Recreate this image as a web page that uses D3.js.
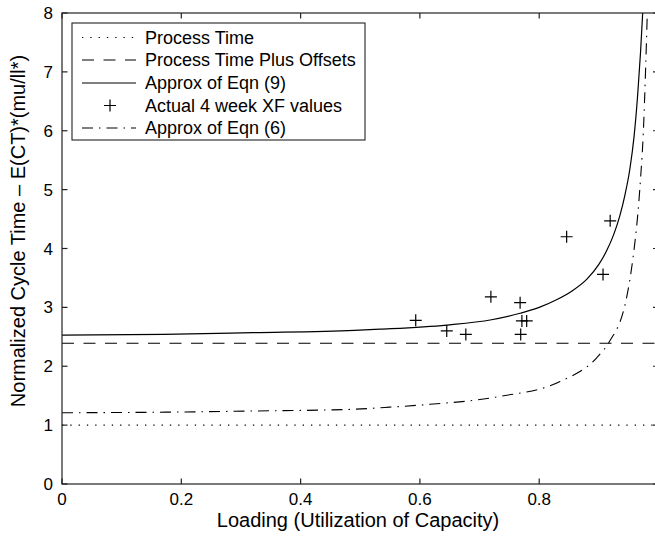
<!DOCTYPE html>
<html><head><meta charset="utf-8">
<script src="https://cdn.jsdelivr.net/npm/d3@7"></script>
<style>body{margin:0;background:#fff}svg{display:block;font-family:"Liberation Sans",Arial,Helvetica,sans-serif}</style>
</head><body>
<svg id="c" width="655" height="541"></svg>
<script>
// ---- data ----
const xTicks = [0, 0.2, 0.4, 0.6, 0.8];
const yTicks = [0, 1, 2, 3, 4, 5, 6, 7, 8];
const processTime = 1.0;
const processTimeOffsets = 2.39;
const eqn9X = [0, 0.17, 0.32, 0.49, 0.533, 0.645, 0.72, 0.768, 0.80, 0.829, 0.855, 0.88, 0.90, 0.913, 0.925, 0.935, 0.944, 0.952, 0.959, 0.965, 0.970, 0.974];
const eqn9Y = [2.53, 2.54, 2.57, 2.61, 2.63, 2.70, 2.79, 2.90, 3.00, 3.13, 3.28, 3.48, 3.73, 3.96, 4.24, 4.55, 4.92, 5.35, 5.9, 6.6, 7.35, 8.1];
const eqn6X = [0, 0.173, 0.324, 0.49, 0.541, 0.6, 0.729, 0.835, 0.896, 0.916, 0.947, 0.958, 0.965, 0.970, 0.9745, 0.9785, 0.9815];
const eqn6Y = [1.21, 1.22, 1.24, 1.27, 1.30, 1.34, 1.48, 1.74, 2.14, 2.39, 3.19, 3.9, 4.55, 5.2, 5.96, 7.08, 8.1];
const actualX = [0.593, 0.645, 0.677, 0.719, 0.768, 0.771, 0.779, 0.769, 0.846, 0.907, 0.919];
const actualY = [2.78, 2.60, 2.54, 3.18, 3.08, 2.77, 2.77, 2.54, 4.20, 3.56, 4.47];
const legendLabels = ["Process Time", "Process Time Plus Offsets", "Approx of Eqn (9)", "Actual 4 week XF values", "Approx of Eqn (6)"];

// ---- layout ----
const L = 62, R = 658.5, T = 13, B = 484;
const svg = d3.select("#c");
const x = d3.scaleLinear().domain([0, 1]).range([L, R]);
const y = d3.scaleLinear().domain([0, 8]).range([B, T]);

const DOT = "1.3,7", DASH = "12,9.5", DASHDOT = "11,6,1.5,6";

svg.append("defs").append("clipPath").attr("id", "clip")
  .append("rect").attr("x", L).attr("y", T).attr("width", R - L).attr("height", B - T);

const g = svg.append("g").attr("clip-path", "url(#clip)");
const line = d3.line().x(d => x(d[0])).y(d => y(d[1])).curve(d3.curveMonotoneX);

g.append("path").datum([[0, processTime], [1, processTime]]).attr("d", line)
  .attr("fill", "none").attr("stroke", "#000").attr("stroke-width", 1.1).attr("stroke-dasharray", DOT);
g.append("path").datum([[0, processTimeOffsets], [1, processTimeOffsets]]).attr("d", line)
  .attr("fill", "none").attr("stroke", "#000").attr("stroke-width", 1.1).attr("stroke-dasharray", DASH);
g.append("path").datum(eqn9X.map((v, i) => [v, eqn9Y[i]])).attr("d", line)
  .attr("fill", "none").attr("stroke", "#000").attr("stroke-width", 1.2);
g.append("path").datum(eqn6X.map((v, i) => [v, eqn6Y[i]])).attr("d", line)
  .attr("fill", "none").attr("stroke", "#000").attr("stroke-width", 1.1).attr("stroke-dasharray", DASHDOT);

const ms = 6;
g.selectAll("path.pt").data(actualX.map((v, i) => [v, actualY[i]])).enter().append("path")
  .attr("class", "pt")
  .attr("d", d => `M${x(d[0]) - ms},${y(d[1])}H${x(d[0]) + ms}M${x(d[0])},${y(d[1]) - ms}V${y(d[1]) + ms}`)
  .attr("stroke", "#000").attr("stroke-width", 1.2).attr("fill", "none");

// ---- axes (box with inward ticks) ----
const tl = 5.5;
const ax = svg.append("g").attr("stroke", "#222").attr("stroke-width", 1.2);
ax.append("rect").attr("x", L).attr("y", T).attr("width", R - L).attr("height", B - T).attr("fill", "none");
xTicks.forEach(t => {
  ax.append("line").attr("x1", x(t)).attr("x2", x(t)).attr("y1", B).attr("y2", B - tl);
  ax.append("line").attr("x1", x(t)).attr("x2", x(t)).attr("y1", T).attr("y2", T + tl);
});
yTicks.forEach(t => {
  ax.append("line").attr("x1", L).attr("x2", L + tl).attr("y1", y(t)).attr("y2", y(t));
  ax.append("line").attr("x1", R).attr("x2", R - tl).attr("y1", y(t)).attr("y2", y(t));
});
svg.append("g").selectAll("text").data(xTicks).enter().append("text")
  .attr("x", d => x(d)).attr("y", 505).attr("text-anchor", "middle")
  .attr("font-size", 17).text(d => d3.format("~g")(d));
svg.append("g").selectAll("text").data(yTicks).enter().append("text")
  .attr("x", 53).attr("y", d => y(d) + 6).attr("text-anchor", "end")
  .attr("font-size", 17).text(d => d);

svg.append("text").attr("x", 358).attr("y", 527).attr("text-anchor", "middle")
  .attr("font-size", 20).text("Loading (Utilization of Capacity)");
svg.append("text").attr("transform", "translate(25,231) rotate(-90)").attr("text-anchor", "middle")
  .attr("font-size", 20).text("Normalized Cycle Time – E(CT)*(mu/ll*)");

// ---- legend ----
const lg = svg.append("g");
lg.append("rect").attr("x", 72).attr("y", 23).attr("width", 293).attr("height", 117)
  .attr("fill", "#fff").attr("stroke", "#222").attr("stroke-width", 1.1);
const rowY = [37.5, 60, 83, 105.5, 128];
const dashes = [DOT, DASH, null, "marker", DASHDOT];
legendLabels.forEach((lab, i) => {
  const yy = rowY[i];
  if (dashes[i] === "marker") {
    lg.append("path").attr("d", `M${110 - ms},${yy}H${110 + ms}M110,${yy - ms}V${yy + ms}`)
      .attr("stroke", "#000").attr("stroke-width", 1.2);
  } else {
    const l = lg.append("line").attr("x1", 82).attr("x2", 136).attr("y1", yy).attr("y2", yy)
      .attr("stroke", "#000").attr("stroke-width", 1.1);
    if (dashes[i]) l.attr("stroke-dasharray", dashes[i]);
  }
  lg.append("text").attr("x", 145).attr("y", yy + 6.3).attr("font-size", 18).text(lab);
});
</script>
</body></html>
